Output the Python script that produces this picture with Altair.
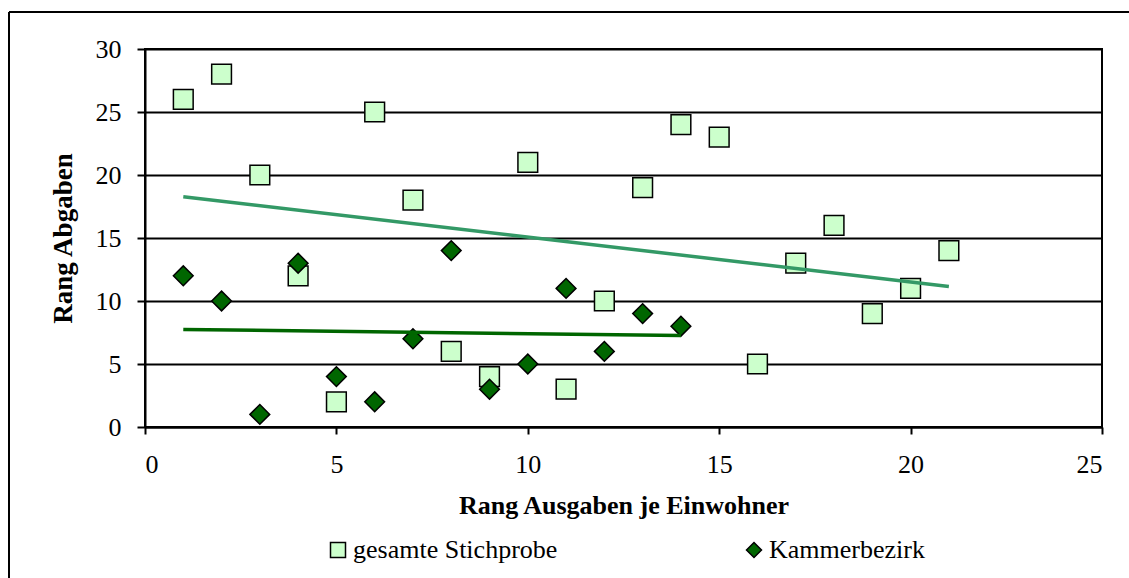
import altair as alt
import pandas as pd

# Rank of spending per inhabitant (x) vs. rank of levies (y)
gesamt_x = [1, 2, 3, 4, 5, 6, 7, 8, 9, 10, 11, 12, 13, 14, 15, 16, 17, 18, 19, 20, 21]
gesamt_y = [26, 28, 20, 12, 2, 25, 18, 6, 4, 21, 3, 10, 19, 24, 23, 5, 13, 16, 9, 11, 14]

kammer_x = [1, 2, 3, 4, 5, 6, 7, 8, 9, 10, 11, 12, 13, 14]
kammer_y = [12, 10, 1, 13, 4, 2, 7, 14, 3, 5, 11, 6, 9, 8]

series_names = ["gesamte Stichprobe", "Kammerbezirk"]

df = pd.concat([
    pd.DataFrame({"x": gesamt_x, "y": gesamt_y, "serie": series_names[0]}),
    pd.DataFrame({"x": kammer_x, "y": kammer_y, "serie": series_names[1]}),
])

FONT = "Liberation Serif"
W, H = 957, 378

legend_cfg = alt.Legend(
    title=None, orient="none", legendX=180, legendY=488,
    direction="horizontal", columns=2, columnPadding=183,
    labelFont=FONT, labelFontSize=26, labelColor="black", labelOffset=2, labelLimit=500,
    symbolSize=225, symbolStrokeColor="black", symbolStrokeWidth=1.5,
)

x_enc = alt.X("x:Q", scale=alt.Scale(domain=[0, 25], nice=False),
              axis=alt.Axis(values=[0, 5, 10, 15, 20, 25], title="Rang Ausgaben je Einwohner",
                            grid=False, tickSize=7, titlePadding=15, labelPadding=17))
y_enc = alt.Y("y:Q", scale=alt.Scale(domain=[0, 30], nice=False),
              axis=alt.Axis(values=[0, 5, 10, 15, 20, 25, 30], title="Rang Abgaben",
                            grid=True, tickSize=8, titlePadding=18, labelPadding=16,
                            titleFontSize=27))

points = alt.Chart(df).mark_point(filled=True, opacity=1, strokeWidth=1.5, size=390).encode(
    x=x_enc,
    y=y_enc,
    shape=alt.Shape("serie:N", scale=alt.Scale(domain=series_names, range=["square", "diamond"]),
                    legend=legend_cfg),
    fill=alt.Fill("serie:N", scale=alt.Scale(domain=series_names, range=["#CCFFCC", "#006600"]),
                  legend=legend_cfg),
    stroke=alt.Stroke("serie:N", scale=alt.Scale(domain=series_names, range=["black", "black"]),
                      legend=legend_cfg),
)

trend = alt.Chart(df).transform_regression(
    "x", "y", groupby=["serie"]
).mark_line(strokeWidth=3.5).encode(
    x="x:Q",
    y="y:Q",
    color=alt.Color("serie:N", scale=alt.Scale(domain=series_names, range=["#339966", "#006600"]),
                    legend=None),
)

# outer frame around the whole figure (top and left edges are visible)
frame_top = alt.Chart().mark_rule(color="black", strokeWidth=2).encode(
    x=alt.value(-136), x2=alt.value(W + 27), y=alt.value(-37)
)
frame_left = alt.Chart().mark_rule(color="black", strokeWidth=2).encode(
    x=alt.value(-136), y=alt.value(-37), y2=alt.value(H + 151)
)

chart = alt.layer(frame_top, frame_left, points, trend).resolve_scale(
    color="independent"
).properties(
    width=W, height=H,
    autosize=alt.AutoSizeParams(type="none"),
    padding={"left": 145, "top": 49, "right": 27, "bottom": 151},
    background="white",
).configure_view(
    stroke="black", strokeWidth=2
).configure_axis(
    labelFont=FONT, labelFontSize=26, labelColor="black",
    titleFont=FONT, titleFontSize=26, titleFontWeight="bold", titleColor="black",
    domainColor="black", domainWidth=2, tickColor="black", tickWidth=2,
    gridColor="black", gridWidth=2, gridOpacity=1,
)

chart.save("out.html", embed_options={"renderer": "svg", "actions": False})
